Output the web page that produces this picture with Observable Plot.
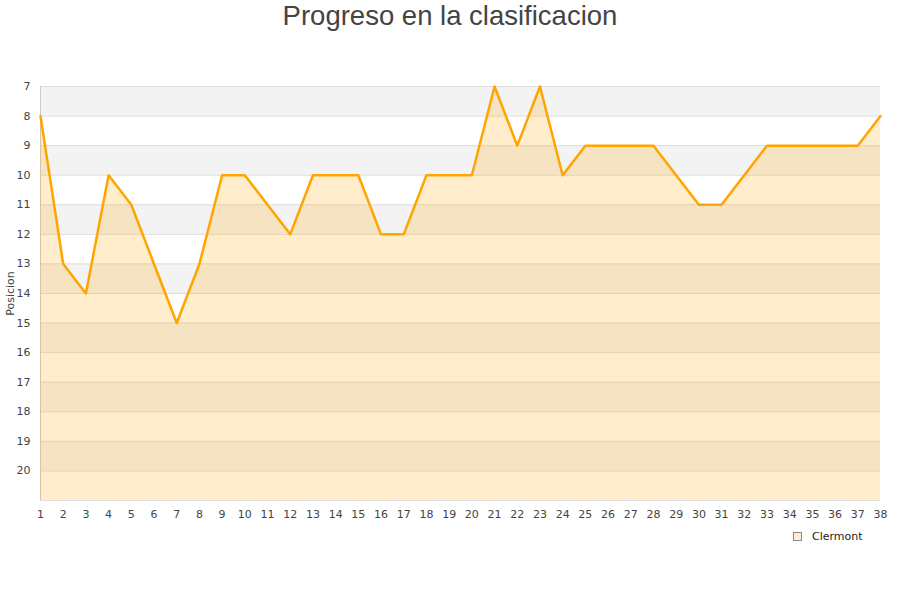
<!DOCTYPE html>
<html><head><meta charset="utf-8">
<script src="https://cdn.jsdelivr.net/npm/d3@7"></script>
<script src="https://cdn.jsdelivr.net/npm/@observablehq/plot@0.6"></script>
<style>
body{margin:0;background:#fff;}
#wrap{position:relative;width:900px;height:600px;}
#title{position:absolute;top:0;left:0;width:900px;text-align:center;font-family:"Liberation Sans",Arial,sans-serif;font-size:27.5px;color:#444;line-height:32px;}
#legend{position:absolute;left:793px;top:530px;font-family:"DejaVu Sans",sans-serif;font-size:11px;color:#222;display:flex;align-items:center;}
#legend span.sw{display:inline-block;width:7px;height:7px;background:#ffedcc;border:1px solid #888;margin-right:10px;}
#chart{position:absolute;top:0;left:0;}
</style></head>
<body><div id="wrap"><div id="chart"></div><div id="title">Progreso en la clasificacion</div>
<div id="legend"><span class="sw"></span>Clermont</div></div>
<script>
const jornadas = d3.range(1, 39);
const posiciones = [8,13,14,10,11,13,15,13,10,10,11,12,10,10,10,12,12,10,10,10,7,9,7,10,9,9,9,9,10,11,11,10,9,9,9,9,9,8];
const yTicks = d3.range(7, 21);
const bandStarts = [7,9,11,13,15,17,19];
const data = jornadas.map((j, i) => ({j, p: posiciones[i]}));
const bands = bandStarts.map(b => ({y1: b, y2: b + 1}));
const plot = Plot.plot({
  width: 900, height: 600,
  marginTop: 86, marginBottom: 100, marginLeft: 40, marginRight: 20,
  style: {fontFamily: "DejaVu Sans, sans-serif", fontSize: "11px", color: "#444", background: "transparent"},
  x: {domain: [1, 38], ticks: jornadas, tickFormat: d => d},
  y: {domain: [7, 21], reverse: true, ticks: yTicks},
  marks: [
    Plot.rectY(bands, {x1: 1, x2: 38, y1: "y1", y2: "y2", fill: "#f3f3f3"}),
    Plot.ruleY(d3.range(7, 22), {x1: 1, x2: 38, stroke: "#dddddd"}),
    Plot.ruleX([1], {y1: 7, y2: 21, stroke: "#cccccc"}),
    Plot.areaY(data, {x: "j", y1: 21, y2: "p", fill: "#ffa500", fillOpacity: 0.2}),
    Plot.line(data, {x: "j", y: "p", stroke: "#ffa500", strokeWidth: 2.5}),
    Plot.axisX({ticks: jornadas, tickSize: 0, tickPadding: 10, label: null, tickFormat: d => d}),
    Plot.axisY({ticks: yTicks, tickSize: 0, tickPadding: 10, label: "Posicion", labelAnchor: "center", labelArrow: "none", labelOffset: 34})
  ]
});
document.getElementById("chart").appendChild(plot);
</script></body></html>
